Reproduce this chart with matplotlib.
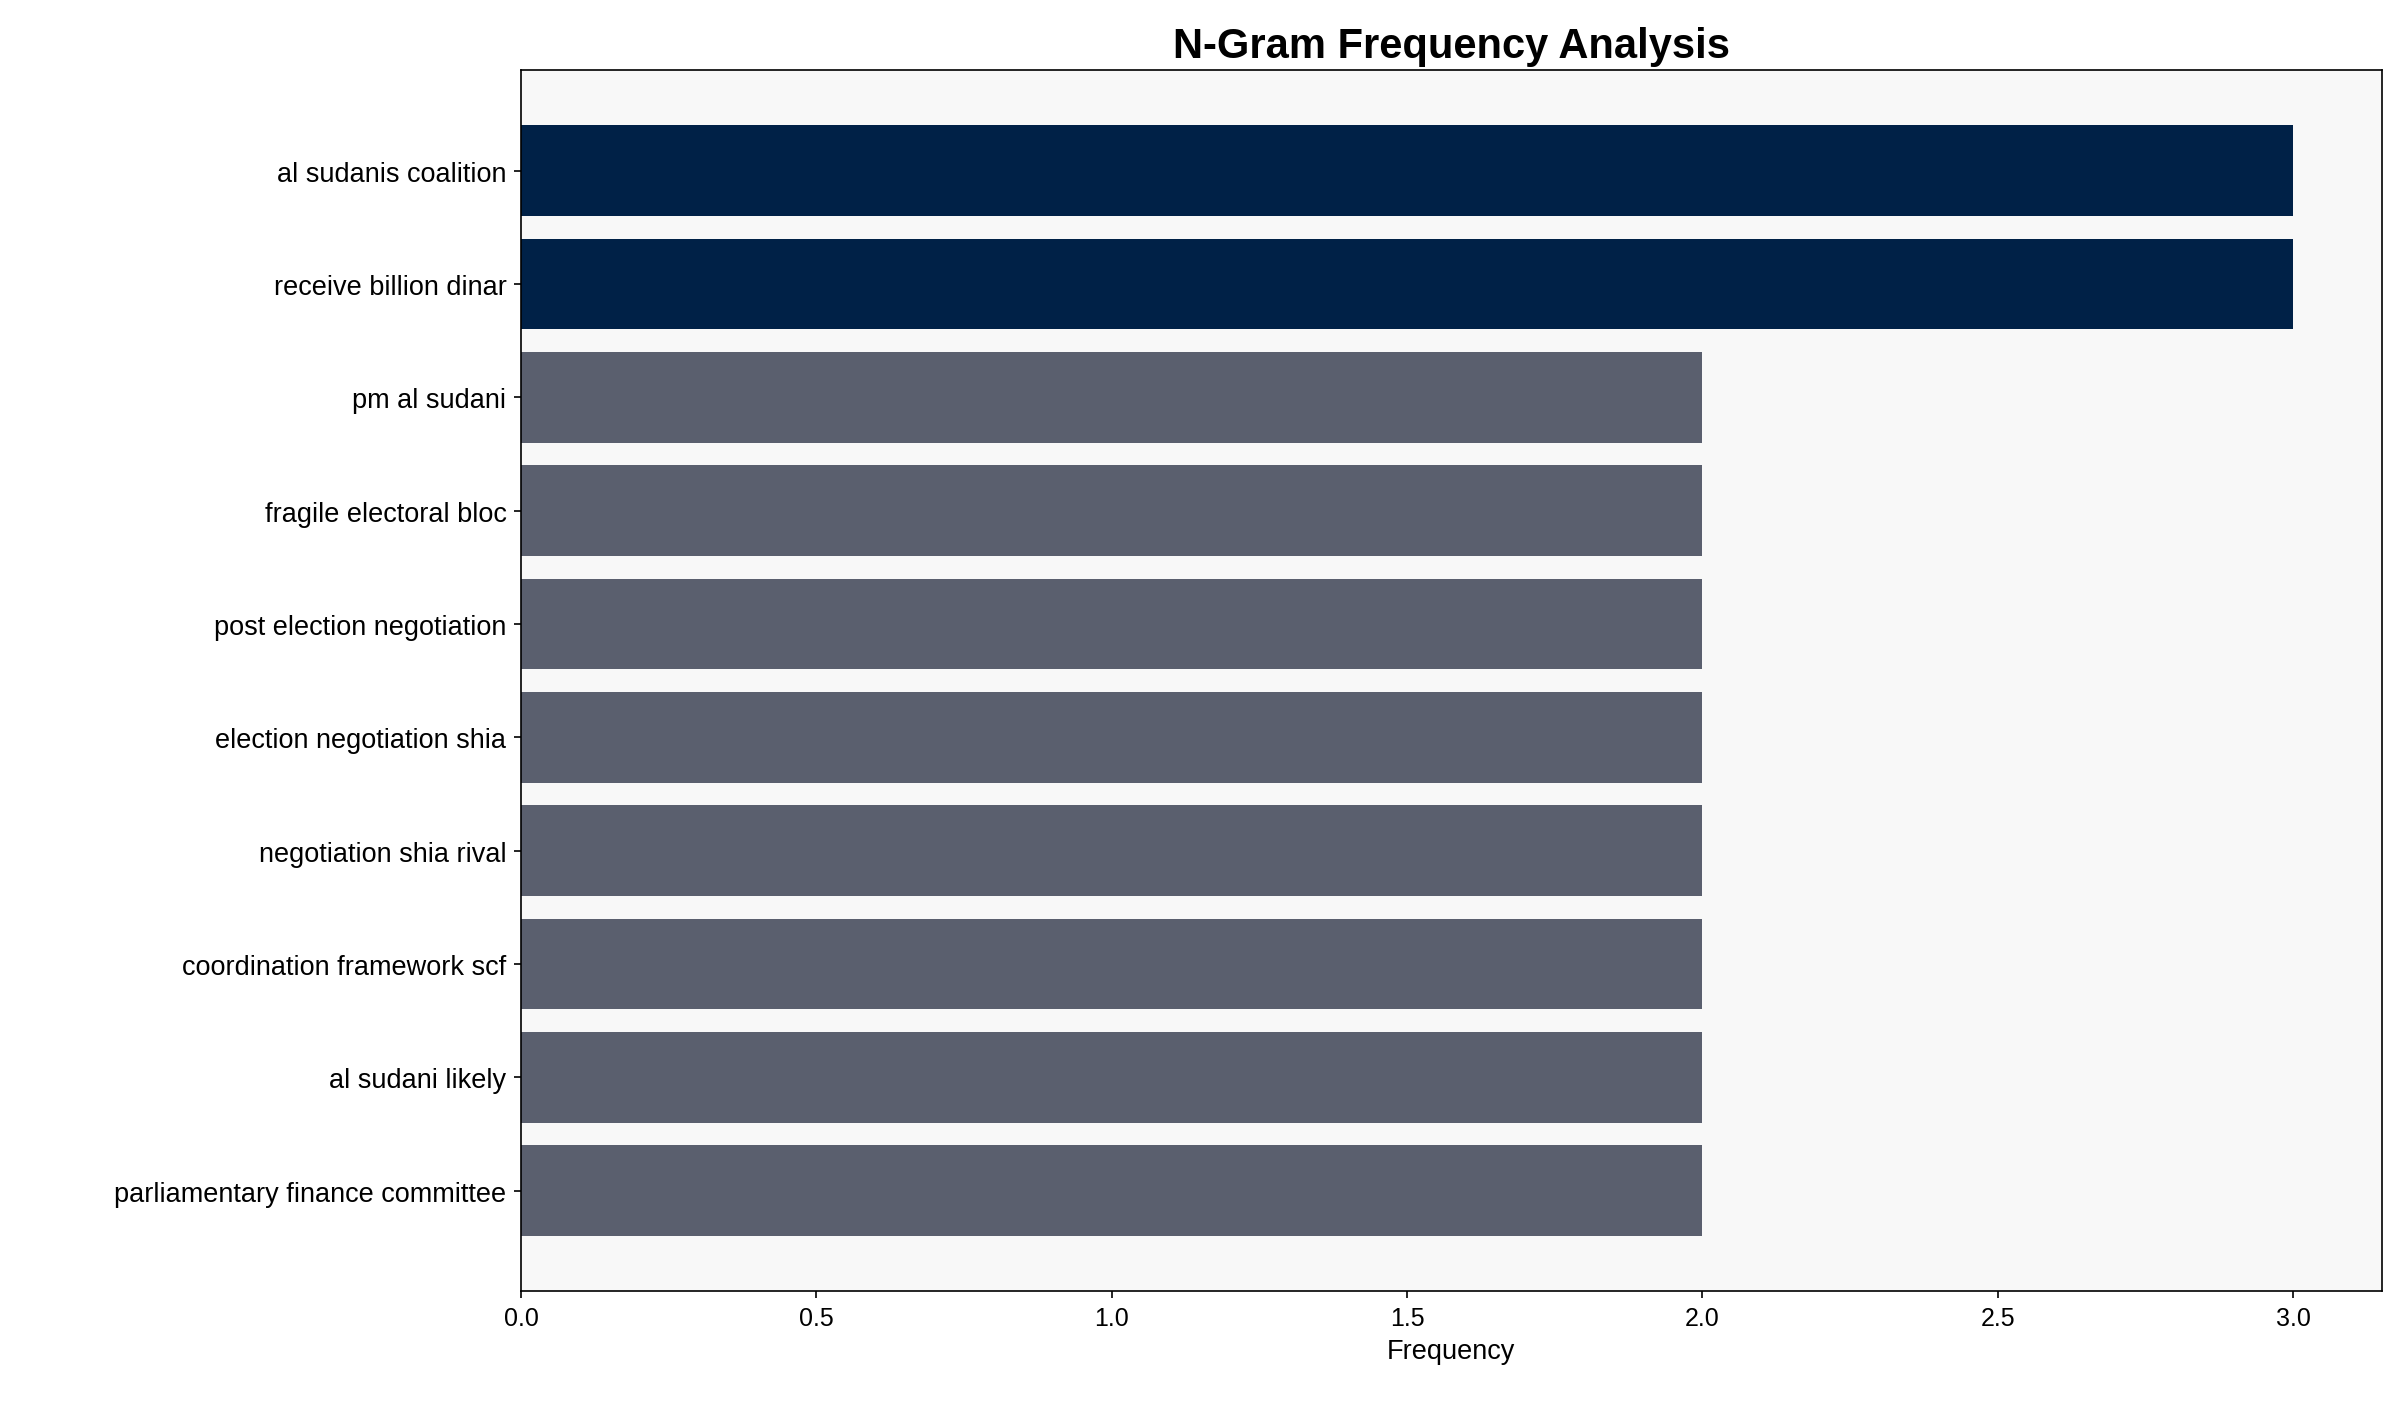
import matplotlib
matplotlib.use("Agg")
import matplotlib.pyplot as plt

ngrams = ["al sudanis coalition", "receive billion dinar", "pm al sudani",
          "fragile electoral bloc", "post election negotiation",
          "election negotiation shia", "negotiation shia rival",
          "coordination framework scf", "al sudani likely",
          "parliamentary finance committee"]
freqs = [3, 3, 2, 2, 2, 2, 2, 2, 2, 2]

plt.rcParams['font.family'] = ['Liberation Sans', 'DejaVu Sans']
fig = plt.figure(figsize=(2401/150, 1414/150), dpi=150)
ax = fig.add_axes([0.217, 0.086, 0.775, 0.864])
ax.set_facecolor('#f8f8f8')
colors = ['#002147' if f == max(freqs) else '#5a5f6e' for f in freqs]
ax.barh(range(len(ngrams)), freqs, color=colors, height=0.8)
ax.set_yticks(range(len(ngrams)))
ax.set_yticklabels(ngrams, fontsize=13)
ax.invert_yaxis()
ax.tick_params(axis='x', labelsize=12)
ax.set_xlabel('Frequency', fontsize=13)
ax.set_title('N-Gram Frequency Analysis', fontsize=20, fontweight='bold')
fig.savefig('out.png', dpi=150)
